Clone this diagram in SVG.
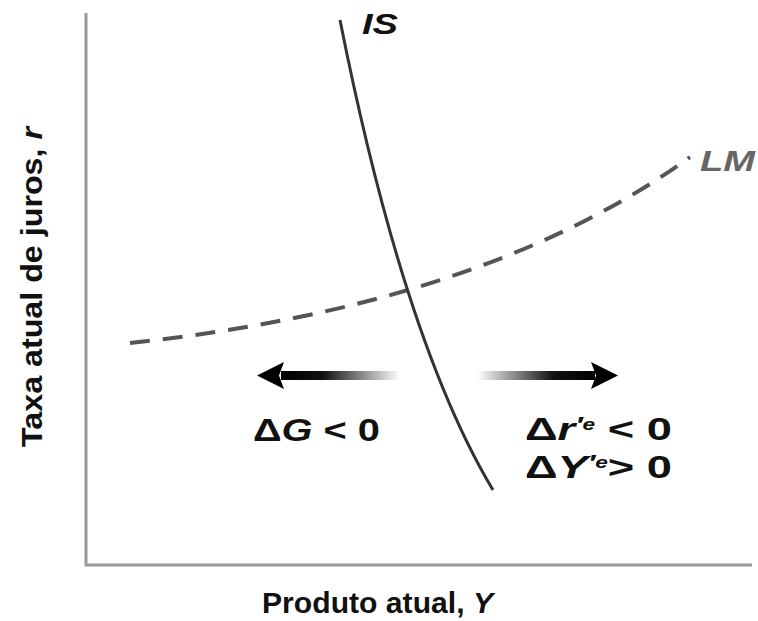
<svg xmlns="http://www.w3.org/2000/svg" width="758" height="621" viewBox="0 0 758 621">
<style>
.lbl{font-family:"Liberation Sans",Arial,sans-serif;font-weight:bold;fill:#111}
.it{font-style:italic}
</style>
<defs>
<linearGradient id="gl" x1="0" y1="0" x2="1" y2="0"><stop offset="0" stop-color="#000"/><stop offset="0.35" stop-color="#111"/><stop offset="1" stop-color="#fff"/></linearGradient>
<linearGradient id="gr" x1="0" y1="0" x2="1" y2="0"><stop offset="0" stop-color="#fff"/><stop offset="0.65" stop-color="#111"/><stop offset="1" stop-color="#000"/></linearGradient>
</defs>
<g id="axes">
<path d="M86,13 V565 H752" fill="none" stroke="#9a9a9a" stroke-width="3"/>
</g>
<g id="connectors">
<path id="lm-curve" d="M130,343 C300,325 520,280 690,157" fill="none" stroke="#555" stroke-width="4" stroke-dasharray="20,13"/>
<path id="is-curve" d="M340,20 Q404,342 493,490" fill="none" stroke="#333" stroke-width="3"/>
<g id="arrow-left">
<rect x="281" y="371" width="119" height="9" fill="url(#gl)"/>
<polygon points="257,375.5 284,362 279,375.5 284,389" fill="#000"/>
</g>
<g id="arrow-right">
<rect x="477" y="371" width="118" height="9" fill="url(#gr)"/>
<polygon points="618,375.5 591,362 596,375.5 591,389" fill="#000"/>
</g>
</g>
<g id="label-is"><text class="lbl it" x="362" y="34" font-size="30" textLength="36" lengthAdjust="spacingAndGlyphs">IS</text></g>
<g id="label-lm"><text class="lbl it" x="700" y="171" font-size="30" textLength="55" lengthAdjust="spacingAndGlyphs" style="fill:#666">LM</text></g>
<g id="label-dg"><text class="lbl" x="253" y="441" font-size="32" textLength="127" lengthAdjust="spacingAndGlyphs">Δ<tspan class="it">G</tspan> &lt; 0</text></g>
<g id="label-dr"><text class="lbl" x="525" y="440" font-size="32" textLength="147" lengthAdjust="spacingAndGlyphs">Δ<tspan class="it">r</tspan><tspan class="it" font-size="22" dy="-8">′</tspan><tspan class="it" font-size="16" dy="-2">e</tspan><tspan dy="10"> &lt; 0</tspan></text></g>
<g id="label-dy"><text class="lbl" x="525" y="478" font-size="32" textLength="147" lengthAdjust="spacingAndGlyphs">Δ<tspan class="it">Y</tspan><tspan class="it" font-size="22" dy="-8">′</tspan><tspan class="it" font-size="16" dy="-2">e</tspan><tspan dy="10">&gt; 0</tspan></text></g>
<g id="label-x"><text class="lbl" x="262" y="613" font-size="30" textLength="231" lengthAdjust="spacingAndGlyphs">Produto atual, <tspan class="it">Y</tspan></text></g>
<g id="label-y"><text class="lbl" transform="translate(42,447) rotate(-90)" font-size="29" textLength="320" lengthAdjust="spacingAndGlyphs">Taxa atual de juros, <tspan class="it">r</tspan></text></g>
</svg>
